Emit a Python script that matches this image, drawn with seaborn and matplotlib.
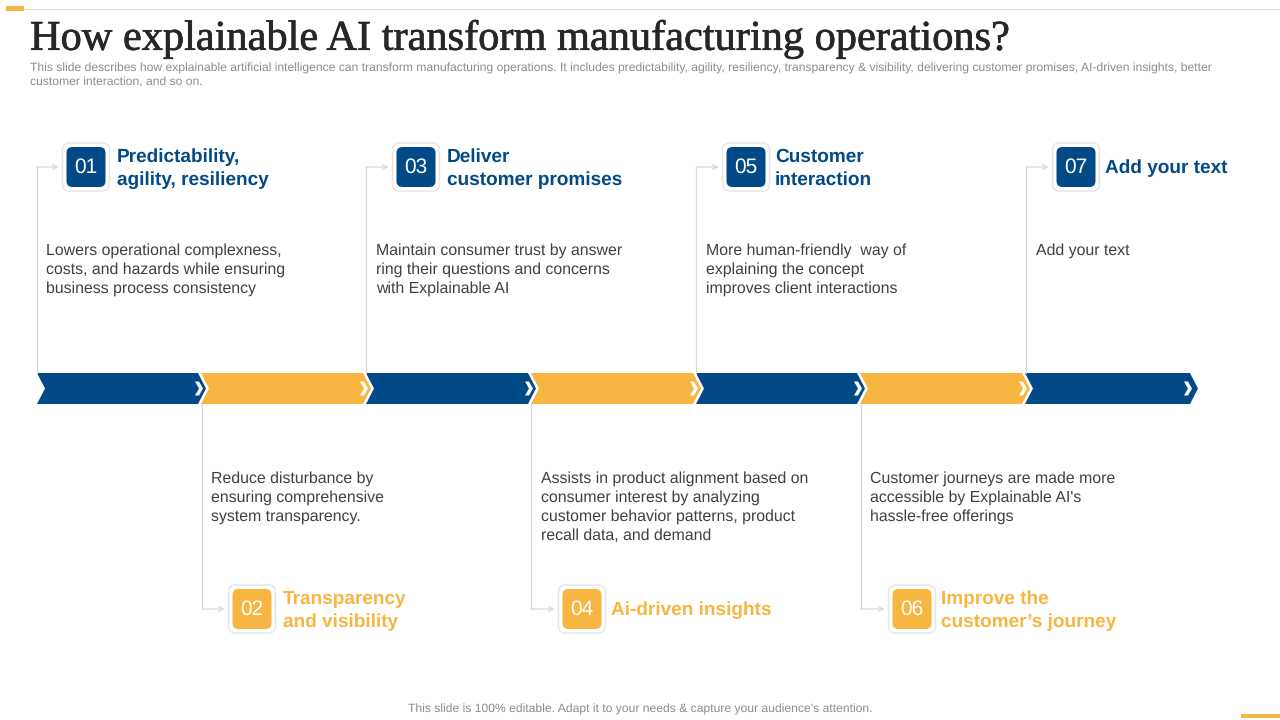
#!/usr/bin/env python3

import matplotlib
matplotlib.use("Agg")
import matplotlib.pyplot as plt
from matplotlib.patches import FancyBboxPatch, Polygon
import matplotlib.patheffects as pe
import seaborn as sns

title = "How explainable AI transform manufacturing operations?"
subtitle = [
    "This slide describes how explainable artificial intelligence can transform manufacturing operations. It includes predictability, agility, resiliency, transparency & visibility, delivering customer promises, AI-driven insights, better",
    "customer interaction, and so on.",
]
footer = "This slide is 100% editable. Adapt it to your needs & capture your audience\u2019s attention."

step_numbers = ["01", "02", "03", "04", "05", "06", "07"]
step_headings = [
    ["Predictability,", "agility, resiliency"],
    ["Transparency", "and visibility"],
    ["Deliver", "customer promises"],
    ["Ai-driven insights"],
    ["Customer", "interaction"],
    ["Improve the", "customer\u2019s journey"],
    ["Add your text"],
]
step_bodies = [
    ["Lowers operational complexness,", "costs, and hazards while ensuring", "business process consistency"],
    ["Reduce disturbance by", "ensuring comprehensive", "system transparency."],
    ["Maintain consumer trust by answer", "ring their questions and concerns", "with Explainable AI"],
    ["Assists in product alignment based on", "consumer interest by analyzing", "customer behavior patterns, product", "recall data, and demand"],
    ["More human-friendly  way of", "explaining the concept", "improves client interactions"],
    ["Customer journeys are made more", "accessible by Explainable AI's", "hassle-free offerings"],
    ["Add your text"],
]

# layout, in slide pixels
segment_starts = [37, 201, 366, 531, 696, 860, 1025]
segment_end = 1198
line_xs = [37, 202, 366, 531, 696, 861, 1026]
badge_xs = [62.5, 228.5, 392.5, 558.5, 722.5, 888.5, 1052.5]
body_xs = [46, 211, 376, 541, 706, 870, 1036]
band_top, band_bottom = 373, 404

sns.set_theme(style="white")
plt.rcParams["font.family"] = ["Liberation Sans", "DejaVu Sans"]
plt.rcParams["text.hinting"] = "none"

blue, yellow = sns.color_palette(["#024a87", "#f7b541"])
rule_color = "#d8d8d8"
body_color = "#404040"
note_color = "#8c8c8c"

fig = plt.figure(figsize=(12.8, 7.2), dpi=100)
ax = fig.add_axes([0, 0, 1, 1])
ax.set_xlim(0, 1280)
ax.set_ylim(720, 0)
ax.axis("off")


def rect(x0, y0, x1, y1, color):
    ax.add_patch(plt.Rectangle((x0, y0), x1 - x0, y1 - y0, color=color, lw=0))


# header and footer
rect(24, 9.2, 1280, 10.2, "#dcdcdc")
rect(6, 6, 24, 11, yellow)
rect(1241, 714, 1280, 718, yellow)

title_text = ax.text(30, 39.5, title, family="Liberation Serif", fontsize=30.5, color="#262626", va="center")
title_text.set_path_effects([pe.withStroke(linewidth=0.5, foreground="#262626")])
for i, line in enumerate(subtitle):
    ax.text(30, 68.5 + i * 14, line, fontsize=8.72, color=note_color, va="center")
ax.text(640, 709, footer, fontsize=8.72, color=note_color, va="center", ha="center")

for i, number in enumerate(step_numbers):
    upper = i % 2 == 0
    color = blue if upper else yellow
    start = segment_starts[i]
    end = segment_starts[i + 1] + 5 if i < 6 else segment_end
    mid = (band_top + band_bottom) / 2

    # chevron segment of the band
    ax.add_patch(Polygon(
        [(start, band_top), (end - 8, band_top), (end, mid), (end - 8, band_bottom),
         (start, band_bottom), (start + 8, mid)],
        closed=True, facecolor=color, edgecolor="none"))

    # small white chevron near the tip
    tip = end - (6 if i == 6 else 3)
    ax.add_patch(Polygon(
        [(tip - 8, mid - 7), (tip - 4, mid - 7), (tip, mid), (tip - 4, mid + 7), (tip - 8, mid + 7), (tip - 4, mid)],
        closed=True, facecolor="white", edgecolor="none"))

    # connector from the band to the badge
    line_x = line_xs[i]
    badge_x = badge_xs[i]
    badge_y = 167 if upper else 609
    band_edge = band_top if upper else band_bottom
    sns.lineplot(x=[line_x, line_x], y=[band_edge, badge_y], color=rule_color, lw=0.9, ax=ax, sort=False, estimator=None)
    ax.annotate("", xy=(badge_x - 4, badge_y), xytext=(line_x, badge_y),
                arrowprops=dict(arrowstyle="->", color=rule_color, lw=0.9, shrinkA=0, shrinkB=0, mutation_scale=8))

    # badge
    ax.add_patch(FancyBboxPatch((badge_x, badge_y - 24), 47, 48, boxstyle="round,pad=0,rounding_size=7",
                                facecolor="white", edgecolor="#e4e4ea", lw=1))
    ax.add_patch(FancyBboxPatch((badge_x + 4, badge_y - 20), 39, 40, boxstyle="round,pad=0,rounding_size=6",
                                facecolor=color, edgecolor="none"))
    ax.text(badge_x + 23.5, badge_y, number, color="white", fontsize=15, ha="center", va="center")

    # heading
    heading = step_headings[i]
    offset = 54.5 if i < 3 else 52.5
    first_y = badge_y + 1.5 - (len(heading) - 1) * 11.5
    for j, line in enumerate(heading):
        ax.text(badge_x + offset, first_y + j * 23, line, color=color, fontsize=13.7, fontweight="bold", va="center")

    # body text
    body_y = 251 if upper else 479
    for j, line in enumerate(step_bodies[i]):
        ax.text(body_xs[i], body_y + j * 19, line, color=body_color, fontsize=11.4, va="center")

sns.despine(ax=ax, left=True, bottom=True)
fig.savefig("out.png", dpi=100)
